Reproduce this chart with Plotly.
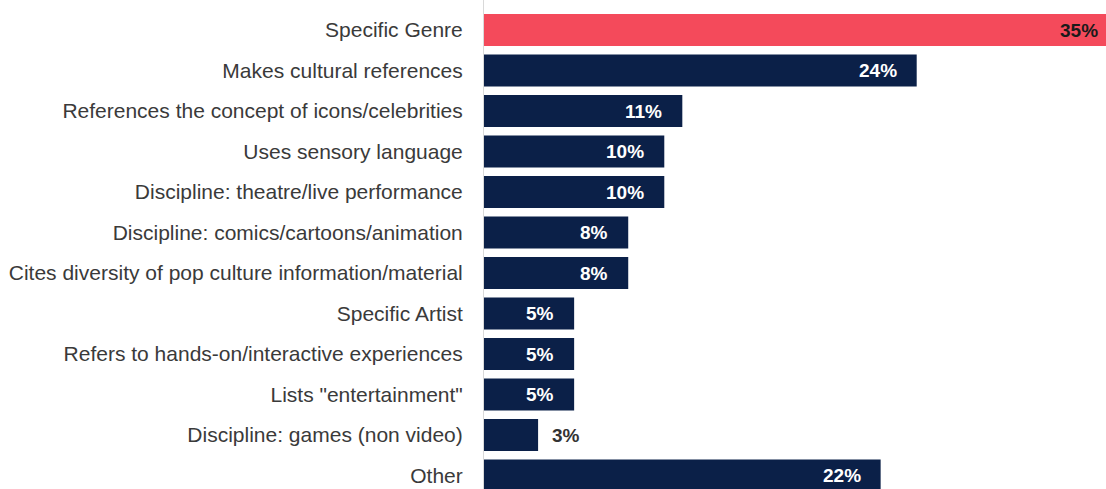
import plotly.graph_objects as go

categories = [
    "Specific Genre",
    "Makes cultural references",
    "References the concept of icons/celebrities",
    "Uses sensory language",
    "Discipline: theatre/live performance",
    "Discipline: comics/cartoons/animation",
    "Cites diversity of pop culture information/material",
    "Specific Artist",
    "Refers to hands-on/interactive experiences",
    'Lists "entertainment"',
    "Discipline: games (non video)",
    "Other",
]
values = [35, 24, 11, 10, 10, 8, 8, 5, 5, 5, 3, 22]

RED = "#F44A5B"
NAVY = "#0B2048"
X_MAX = 34.5
FONT = "Liberation Sans, Arial, sans-serif"

colors = [RED if i == 0 else NAVY for i in range(len(values))]

fig = go.Figure(
    go.Bar(
        x=values,
        y=categories,
        orientation="h",
        marker=dict(color=colors, line=dict(width=0)),
        width=0.79,
        hoverinfo="skip",
    )
)

# value labels: inside the bar end, or just past it for short bars
annotations = []
for i, (cat, v) in enumerate(zip(categories, values)):
    xv = min(v, X_MAX)
    if v < 4:
        annotations.append(dict(
            x=xv, y=cat, text=f"<b>{v}%</b>", showarrow=False,
            xanchor="left", xshift=12,
            font=dict(family=FONT, size=19, color="#333333"),
        ))
    else:
        annotations.append(dict(
            x=xv, y=cat, text=f"<b>{v}%</b>", showarrow=False,
            xanchor="right", xshift=-6 if v > X_MAX else -18,
            font=dict(family=FONT, size=19,
                      color="#1a1a1a" if i == 0 else "#ffffff"),
        ))

fig.update_layout(
    width=1106,
    height=489,
    margin=dict(l=484, r=0, t=0, b=0),
    paper_bgcolor="white",
    plot_bgcolor="white",
    showlegend=False,
    annotations=annotations,
    xaxis=dict(range=[0, X_MAX], visible=False, fixedrange=True),
    yaxis=dict(
        type="category",
        categoryorder="array",
        categoryarray=categories,
        range=[11.333, -0.741],
        showline=True,
        linecolor="#d9d9d9",
        linewidth=1,
        showgrid=False,
        zeroline=False,
        ticks="",
        ticklabelstandoff=16,
        automargin=False,
        tickfont=dict(family=FONT, size=21, color="#3a3a3a"),
    ),
)

fig.write_html("out.html")
